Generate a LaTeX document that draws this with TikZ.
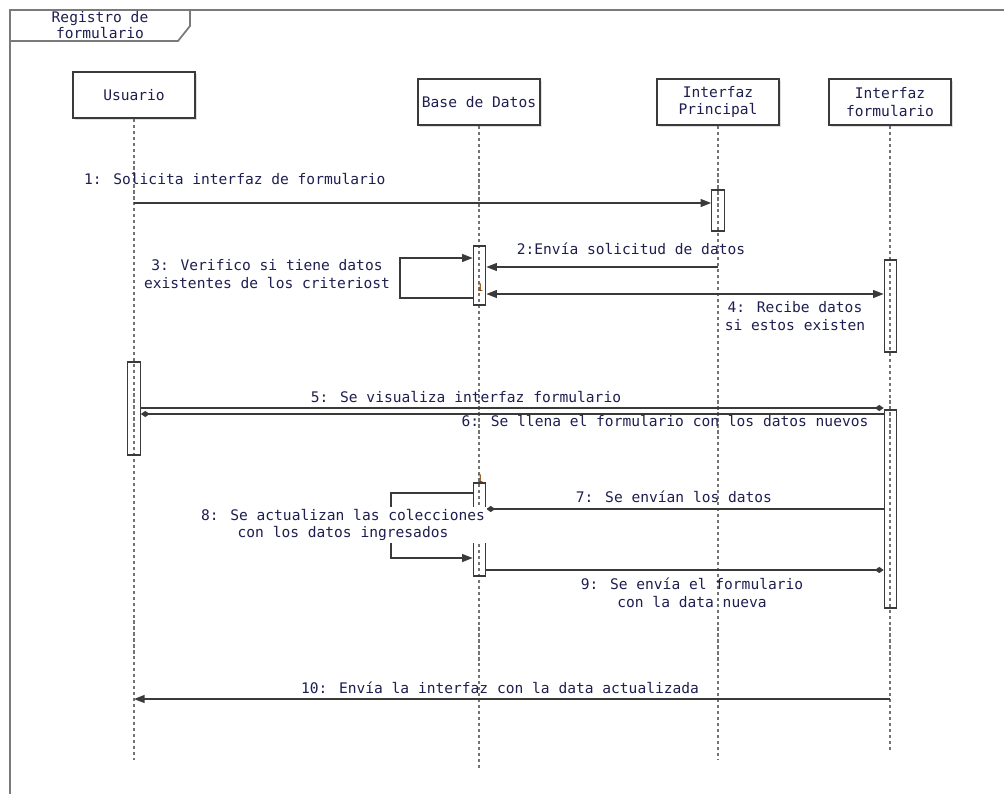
\documentclass[tikz,border=0pt]{standalone}
\usepackage{fontspec}
\newfontfamily\seqfont{DejaVu Sans Mono}
\usetikzlibrary{arrows.meta,shadows}
\definecolor{seqtext}{HTML}{1E1E50}
\definecolor{seqline}{HTML}{3A3A3A}
\definecolor{seqframe}{HTML}{7A7A7A}

\begin{document}
\begin{tikzpicture}[
    x=0.02cm, y=-0.02cm,
    every node/.style={font=\seqfont\fontsize{8.3}{10.2}\selectfont, text=seqtext, inner sep=1pt},
    head/.style={draw=seqline, line width=0.8pt, fill=white, minimum width=2.44cm,
        minimum height=0.92cm, align=center,
        drop shadow={shadow xshift=1pt, shadow yshift=-1pt, opacity=0.25}},
    act/.style={draw=seqline, line width=0.7pt, minimum width=0.25cm, inner sep=0pt},
    lifeline/.style={draw=black!55, line width=0.9pt, dash pattern=on 1.8pt off 1.6pt},
    msg/.style={draw=seqline, line width=0.8pt},
    reply/.style={msg, -{Diamond[length=5pt,width=3.5pt]}},
    lbl/.style={align=center},
    frame/.style={draw=seqframe, line width=1pt},
    >={Triangle[length=6pt,width=4.5pt]}
]
\useasboundingbox (0,0) rectangle (1004,794);

% Frame
\draw[frame] (10,794) -- (10,10) -- (1004,10);
\draw[frame] (10,41) -- (178,41) -- (190,26) -- (190,10);
\node[lbl, font=\seqfont\fontsize{8.3}{8}\selectfont] (title) at (100,25) {Registro de\\formulario};

% Lifeline heads
\node[head] (usr) at (134,95) {Usuario};
\node[head] (bd) at (479,102) {Base de Datos};
\node[head] (ip) at (718,102) {Interfaz\\Principal};
\node[head] (ifo) at (890,102) {Interfaz\\formulario};

% Lifelines
\coordinate (usrEnd) at (134,760);
\coordinate (bdEnd) at (479,770);
\coordinate (ipEnd) at (718,760);
\coordinate (ifoEnd) at (890,750);
\draw[lifeline] (usr.south) -- (usrEnd);
\draw[lifeline] (bd.south) -- (bdEnd);
\draw[lifeline] (ip.south) -- (ipEnd);
\draw[lifeline] (ifo.south) -- (ifoEnd);

% Activations
\node[act, minimum height=0.82cm] (actIP) at (718,210.5) {};
\node[act, minimum height=1.18cm] (actBD1) at (479.5,275.5) {};
\node[act, minimum height=1.84cm] (actIF1) at (890.5,306) {};
\node[act, minimum height=1.86cm] (actUS) at (134,408.5) {};
\node[act, minimum height=3.96cm] (actIF2) at (890.5,509) {};
\node[act, minimum height=1.86cm] (actBD2) at (479.5,529.5) {};
\node[font=\seqfont\fontsize{6}{6}\selectfont, text=orange!50!black] (one1) at (480,288) {1};
\node[font=\seqfont\fontsize{6}{6}\selectfont, text=orange!50!black] (one2) at (480,479) {1};

% 1
\coordinate (m1) at (134,203);
\draw[msg,->] (usr |- m1) -- (actIP.west |- m1);
\node[anchor=west] (l1) at (82,179) {1: Solicita interfaz de formulario};

% 2
\coordinate (m2) at (718,267);
\draw[msg,->] (ip |- m2) -- (actBD1.east |- m2);
\node (l2) at (631,249) {2:Envía solicitud de datos};

% 3 (self call)
\coordinate (m3a) at (479,258);
\coordinate (m3b) at (479,298);
\coordinate (loop3) at (400,278);
\draw[msg,->] (actBD1.west |- m3b) -| (loop3) |- (actBD1.west |- m3a);
\node[lbl] (l3) at (267,274) {3: Verifico si tiene datos\\existentes de los criteriost};

% 4
\coordinate (m4) at (479,294);
\draw[msg,<->] (actBD1.east |- m4) -- (actIF1.west |- m4);
\node[lbl] (l4) at (795,316) {4: Recibe datos\\si estos existen};

% 5
\coordinate (m5) at (134,408);
\draw[reply] (actUS.east |- m5) -- (actIF2.west |- m5);
\node (l5) at (466,397) {5: Se visualiza interfaz formulario};

% 6
\coordinate (m6) at (134,414);
\draw[reply] (actIF2.west |- m6) -- (actUS.east |- m6);
\node (l6) at (665,421) {6: Se llena el formulario con los datos nuevos};

% 7
\coordinate (m7) at (479,509);
\draw[reply] (actIF2.west |- m7) -- (actBD2.east |- m7);
\node (l7) at (674,497) {7: Se envían los datos};

% 8 (self call)
\coordinate (m8a) at (479,493);
\coordinate (m8b) at (479,558);
\coordinate (loop8) at (391,525);
\draw[msg,->] (actBD2.west |- m8a) -| (loop8) |- (actBD2.west |- m8b);
\node[lbl, fill=white] (l8) at (343,525) {8: Se actualizan las colecciones\\con los datos ingresados};

% 9
\coordinate (m9) at (479,570);
\draw[reply] (actBD2.east |- m9) -- (actIF2.west |- m9);
\node[lbl] (l9) at (692,593) {9: Se envía el formulario\\con la data nueva};

% 10
\coordinate (m10) at (134,699);
\draw[msg,->] (ifo |- m10) -- (usr |- m10);
\node (l10) at (500,688) {10: Envía la interfaz con la data actualizada};

\end{tikzpicture}
\end{document}
